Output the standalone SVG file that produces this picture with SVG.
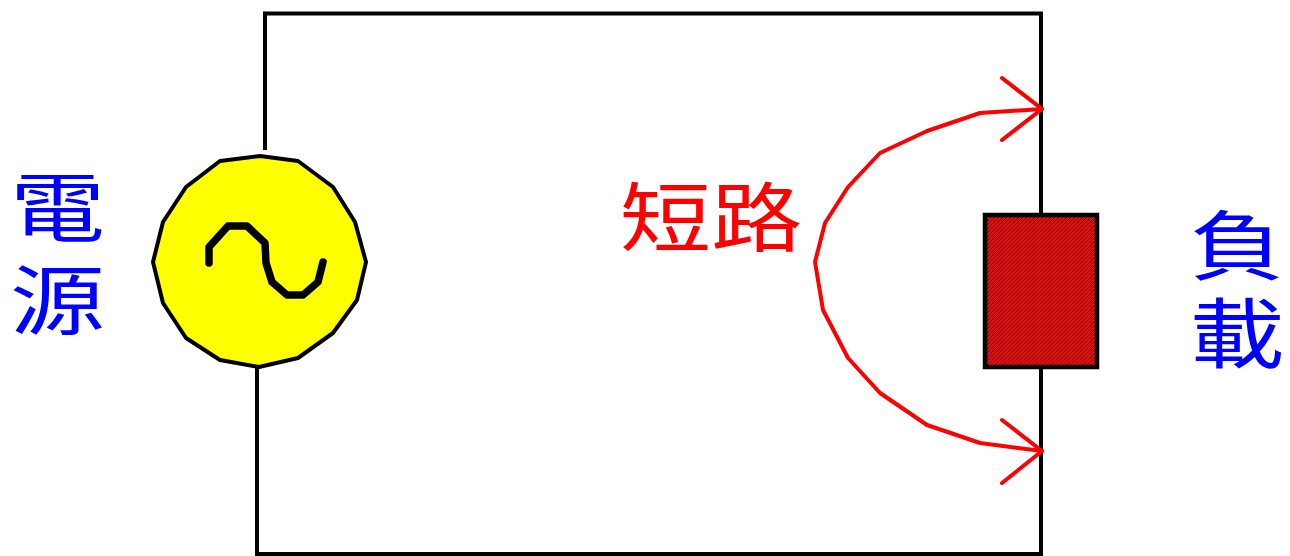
<svg xmlns="http://www.w3.org/2000/svg" width="1290" height="556" viewBox="0 0 1290 556">
<style>
.wire{fill:none;stroke:#000;stroke-width:4}
.lbl{font-family:"Noto Sans CJK TC","Noto Sans CJK SC",sans-serif;font-size:76px;text-anchor:middle}
.blue{fill:#0000ff}
.red{fill:#ff0000}
.arrow{fill:none;stroke:#ff0000;stroke-width:4;stroke-linejoin:round;stroke-linecap:round}
</style>
<defs>
<pattern id="hatch" width="4" height="4" patternUnits="userSpaceOnUse">
<rect width="4" height="4" fill="#ff0000"/>
<path d="M-1,1 L1,-1 M0,4 L4,0 M3,5 L5,3" stroke="#000" stroke-width="0.9"/>
</pattern>
</defs>
<rect width="1290" height="556" fill="#fff"/>
<g id="connectors">
<path class="wire" d="M265,150 V13.5 H1041 V556"/>
<path class="wire" d="M257,366 V554 H1043"/>
</g>
<g id="source">
<polygon points="260,156 298,161 333,187 355,222 366,262 357,300 333,333 298,358 259,367 220,360 186,338 163,303 153,262 163,222 186,187 220,161" fill="#ffff00" stroke="#000" stroke-width="4" stroke-linejoin="round"/>
<polyline points="209,263 209,247 228,226 247,226 265,243 266,263 272,282 287,295 303,295 318,282 323,262" fill="none" stroke="#000" stroke-width="7.5" stroke-linecap="round" stroke-linejoin="round"/>
</g>
<g id="load">
<rect x="985" y="215" width="112" height="152" fill="url(#hatch)" stroke="#000" stroke-width="4.5"/>
</g>
<g id="short-arrow">
<polyline class="arrow" points="1042,109 980,113 927,131 880,153 848,187 825,223 815,262 823,310 848,358 880,393 927,425 980,443 1042,451"/>
<polyline class="arrow" points="1002,78 1042,109 1002,140"/>
<polyline class="arrow" points="1002,420 1042,451 1002,483"/>
</g>
<g id="label-source">
<text class="lbl blue" transform="translate(57.5,236) scale(1.25,1)"><tspan x="0" y="0">電</tspan><tspan x="0" y="93">源</tspan></text>
</g>
<g id="label-short">
<text class="lbl red" transform="translate(711,246) scale(1.2,1)">短路</text>
</g>
<g id="label-load">
<text class="lbl blue" transform="translate(1237,274) scale(1.25,1)"><tspan x="0" y="0">負</tspan><tspan x="0" y="88">載</tspan></text>
</g>
</svg>
